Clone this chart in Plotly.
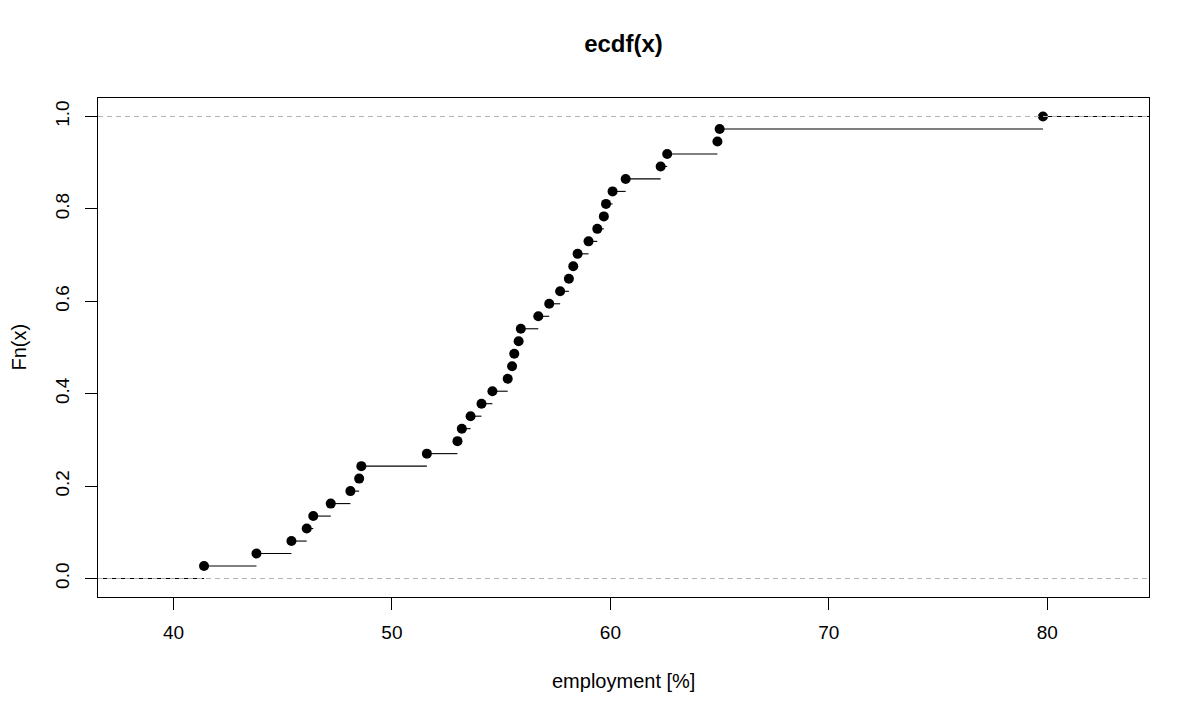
import plotly.graph_objects as go
import numpy as np

employment = [41.4, 43.8, 45.4, 46.1, 46.4, 47.2, 48.1, 48.5, 48.6, 51.6,
              53.0, 53.2, 53.6, 54.1, 54.6, 55.3, 55.5, 55.6, 55.8, 55.9,
              56.7, 57.2, 57.7, 58.1, 58.3, 58.5, 59.0, 59.4, 59.7, 59.8,
              60.1, 60.7, 62.3, 62.6, 64.9, 65.0, 79.8]
y_ticks = [0.0, 0.2, 0.4, 0.6, 0.8, 1.0]
x_ticks = [40, 50, 60, 70, 80]

knots = np.array(sorted(employment))
n = len(knots)
fn = np.arange(1, n + 1) / n

# R plot.ecdf limits
rx = knots[-1] - knots[0]
dr = max(0.08 * rx, np.median(np.diff(knots)))
xlim = [knots[0] - dr, knots[-1] + dr]
pad = 0.04 * (xlim[1] - xlim[0])
xrange = [xlim[0] - pad, xlim[1] + pad]

# horizontal step segments
ti = np.concatenate([[xlim[0] - dr], knots, [xlim[1] + dr]])
levels = np.concatenate([[0.0], fn])
seg_x, seg_y = [], []
for i in range(len(levels)):
    seg_x += [ti[i], ti[i + 1], None]
    seg_y += [levels[i], levels[i], None]

FONT = "Liberation Sans, Arial, sans-serif"

fig = go.Figure()
fig.add_trace(go.Scatter(x=seg_x, y=seg_y, mode="lines",
                         line=dict(color="black", width=1.1),
                         hoverinfo="skip", showlegend=False))
fig.add_trace(go.Scatter(x=knots, y=fn, mode="markers",
                         marker=dict(color="black", size=10, line=dict(width=0)),
                         showlegend=False, cliponaxis=False))

for h in [0, 1]:
    fig.add_shape(type="line", xref="paper", yref="y", x0=0, x1=1, y0=h, y1=h,
                  line=dict(color="#B3B3B3", width=1, dash="5px,4px"), layer="above")

fig.update_layout(
    width=1200, height=720,
    margin=dict(l=98, r=51, t=98, b=123),
    paper_bgcolor="white", plot_bgcolor="white",
    font=dict(family=FONT, size=20, color="black"),
    showlegend=False,
    title=dict(text="<b>ecdf(x)</b>", x=0.5, xref="paper", xanchor="center",
               y=1, yref="container", yanchor="top", pad=dict(t=35),
               font=dict(family=FONT, size=24, color="black")),
)
fig.update_xaxes(range=xrange, tickvals=x_ticks, ticktext=[str(v) for v in x_ticks],
                 showgrid=False, zeroline=False, showline=True, mirror=True,
                 linecolor="black", linewidth=1, ticks="outside", ticklen=12,
                 tickcolor="black", tickwidth=1, ticklabelstandoff=6,
                 tickfont=dict(family=FONT, size=19, color="black"))
fig.update_yaxes(range=[-0.04, 1.04], tickvals=y_ticks, ticktext=[f"{v:.1f}" for v in y_ticks],
                 tickangle=-90,
                 showgrid=False, zeroline=False, showline=True, mirror=True,
                 linecolor="black", linewidth=1, ticks="outside", ticklen=12,
                 tickcolor="black", tickwidth=1, ticklabelstandoff=8,
                 tickfont=dict(family=FONT, size=19, color="black"))

fig.add_annotation(text="employment [%]", xref="paper", yref="paper", x=0.5, y=0,
                   xanchor="center", yanchor="middle", yshift=-84, showarrow=False,
                   font=dict(family=FONT, size=20, color="black"))
fig.add_annotation(text="Fn(x)", xref="paper", yref="paper", x=0, y=0.5,
                   xanchor="center", yanchor="middle", xshift=-80, textangle=-90,
                   showarrow=False, font=dict(family=FONT, size=20, color="black"))

fig.write_html("out.html")
